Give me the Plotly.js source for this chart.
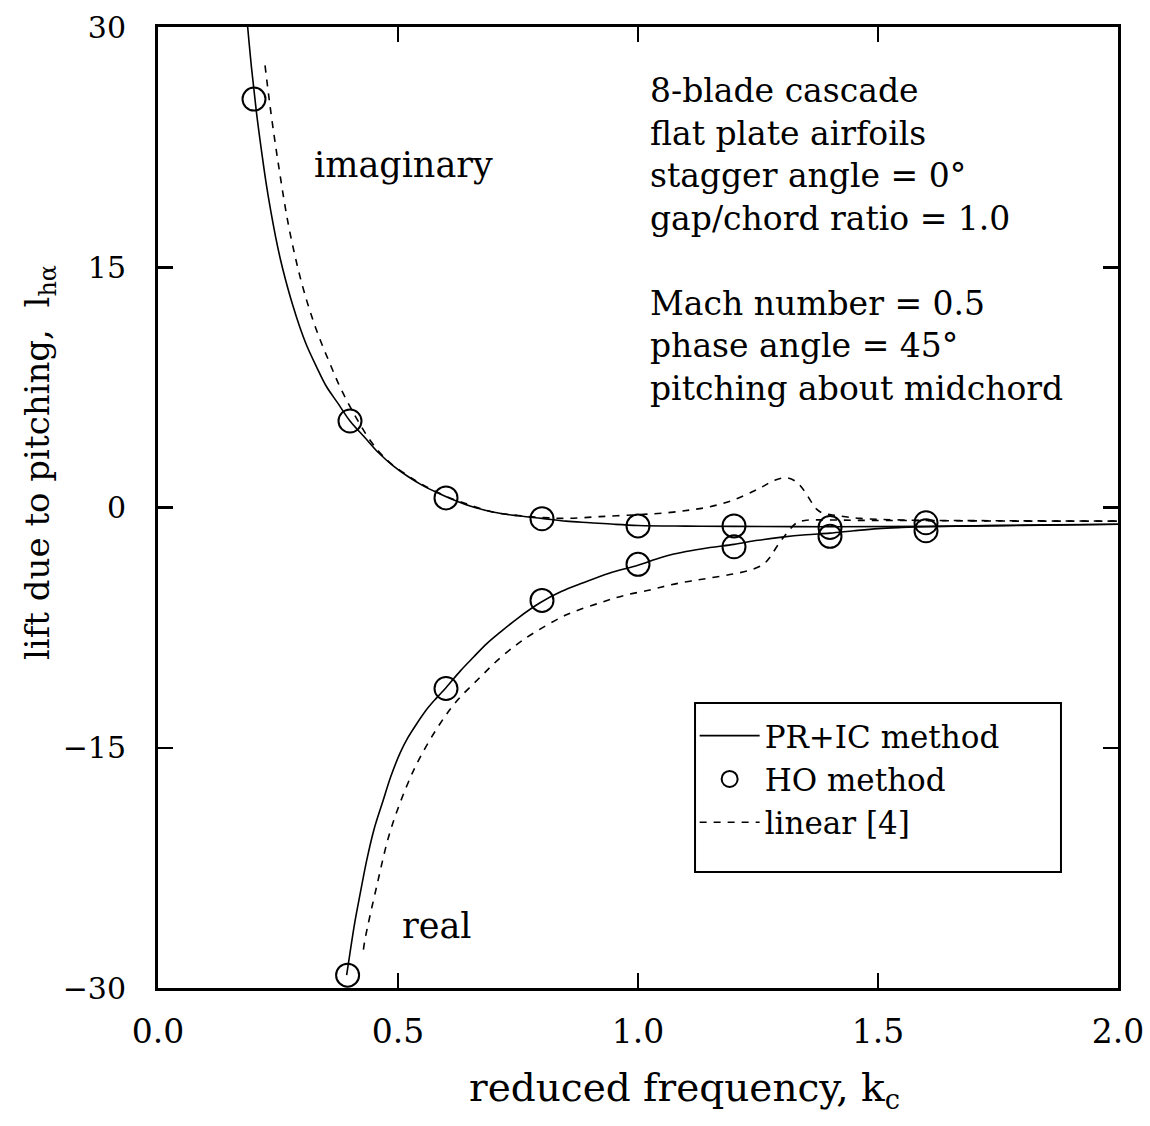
<!DOCTYPE html>
<html>
<head>
<meta charset="utf-8">
<script src="https://cdn.plot.ly/plotly-3.0.1.min.js"></script>
<style>
  html, body { margin: 0; padding: 0; background: #ffffff; }
  #chart { width: 1150px; height: 1126px; }
</style>
</head>
<body>
<div id="chart"></div>
<script>
// ---- data ----
// PR+IC method (solid lines)
const prImagK = [0.185, 0.195, 0.205, 0.215, 0.225, 0.235, 0.245, 0.255, 0.265, 0.280, 0.295, 0.310, 0.330, 0.350, 0.375, 0.400, 0.430, 0.460, 0.490, 0.520, 0.550, 0.580, 0.610, 0.650, 0.700, 0.750, 0.800, 0.850, 0.900, 0.950, 1.000, 1.100, 1.200, 1.400, 1.600, 1.800, 2.000];
const prImagV = [30.6, 27.4, 24.7, 22.4, 20.3, 18.5, 16.9, 15.5, 14.3, 12.7, 11.3, 10.1, 8.8, 7.6, 6.5, 5.4, 4.4, 3.4, 2.6, 1.95, 1.4, 0.95, 0.55, 0.1, -0.3, -0.52, -0.68, -0.85, -0.95, -1.05, -1.12, -1.16, -1.18, -1.2, -1.18, -1.12, -1.05];

const prRealK = [0.393, 0.400, 0.410, 0.420, 0.435, 0.450, 0.469, 0.485, 0.504, 0.520, 0.539, 0.560, 0.580, 0.600, 0.630, 0.657, 0.685, 0.7125, 0.750, 0.796, 0.840, 0.886, 0.940, 1.000, 1.050, 1.100, 1.150, 1.200, 1.250, 1.300, 1.350, 1.400, 1.450, 1.500, 1.550, 1.600, 1.800, 2.000];
const prRealV = [-29.2, -27.8, -25.9, -24.3, -22.0, -20.1, -18.3, -16.8, -15.35, -14.4, -13.5, -12.6, -11.9, -11.25, -10.2, -9.35, -8.5, -7.8, -6.9, -5.95, -5.25, -4.7, -4.1, -3.6, -3.1, -2.75, -2.5, -2.3, -2.05, -1.85, -1.7, -1.6, -1.45, -1.32, -1.25, -1.2, -1.1, -1.05];

// HO method (circles)
const hoImagK = [0.2, 0.4, 0.6, 0.8, 1.0, 1.2, 1.4, 1.6];
const hoImagV = [25.5, 5.4, 0.6, -0.7, -1.15, -1.15, -1.25, -0.95];
const hoRealK = [0.395, 0.6, 0.8, 1.0, 1.2, 1.4, 1.6];
const hoRealV = [-29.2, -11.3, -5.8, -3.55, -2.45, -1.8, -1.45];

// linear [4] (dashed lines)
const linImagK = [0.223, 0.232, 0.242, 0.252, 0.262, 0.272, 0.284, 0.296, 0.310, 0.324, 0.340, 0.358, 0.375, 0.393, 0.413, 0.435, 0.460, 0.483, 0.520, 0.550, 0.600, 0.650, 0.700, 0.750, 0.800, 0.851, 0.920, 1.000, 1.060, 1.108, 1.150, 1.199, 1.250, 1.285, 1.310, 1.330, 1.345, 1.360, 1.372, 1.385, 1.414, 1.4625, 1.550, 1.700, 2.000];
const linImagV = [27.6, 25.4, 23.2, 21.2, 19.3, 17.6, 15.9, 14.4, 12.9, 11.6, 10.3, 9.0, 7.8, 6.7, 5.6, 4.5, 3.5, 2.8, 2.0, 1.45, 0.7, 0.15, -0.3, -0.5, -0.62, -0.68, -0.57, -0.45, -0.33, -0.16, 0.05, 0.47, 1.15, 1.7, 1.85, 1.6, 1.1, 0.4, -0.1, -0.35, -0.5, -0.68, -0.78, -0.82, -0.85];

const linRealK = [0.428, 0.431, 0.456, 0.483, 0.518, 0.546, 0.5875, 0.622, 0.671, 0.7125, 0.750, 0.782, 0.851, 0.921, 0.970, 1.025, 1.065, 1.108, 1.150, 1.198, 1.235, 1.261, 1.275, 1.289, 1.310, 1.331, 1.350, 1.400, 1.450, 1.600, 1.800, 2.000];
const linRealV = [-27.6, -27.0, -23.6, -20.3, -17.4, -15.6, -13.5, -12.1, -10.6, -9.4, -8.5, -7.85, -6.7, -5.95, -5.5, -5.15, -4.85, -4.6, -4.4, -4.15, -3.9, -3.55, -3.1, -2.45, -1.6, -0.95, -0.8, -0.78, -0.8, -0.82, -0.85, -0.85];

// tick labels
const xTickVals = [0, 0.5, 1.0, 1.5, 2.0];
const xTickText = ["0.0", "0.5", "1.0", "1.5", "2.0"];
const yTickVals = [-30, -15, 0, 15, 30];
const yTickText = ["\u221230", "\u221215", "0", "15", "30"];

// texts
const xTitle = "reduced frequency, k<sub>c</sub>";
const yTitle = "lift due to pitching,  l<sub>hα</sub>";
const infoLines = ["8-blade cascade", "flat plate airfoils", "stagger angle = 0°", "gap/chord ratio = 1.0", "", "Mach number = 0.5", "phase angle = 45°", "pitching about midchord"];

// ---- chart ----
const FONT = "DejaVu Serif, Liberation Serif, serif";
const solid = {color: "black", width: 1.6, dash: "solid", shape: "spline", smoothing: 1};
const dashed = {color: "black", width: 1.6, dash: "7px,7px", shape: "spline", smoothing: 1};
const circ = {symbol: "circle-open", size: 23, color: "black", line: {width: 2, color: "black"}};

const traces = [
  {x: prImagK, y: prImagV, mode: "lines", line: solid, name: "PR+IC method", legendgroup: "pr", showlegend: true},
  {x: prRealK, y: prRealV, mode: "lines", line: solid, name: "PR+IC method", legendgroup: "pr", showlegend: false},
  {x: hoImagK, y: hoImagV, mode: "markers", marker: circ, name: "HO method", legendgroup: "ho", showlegend: true},
  {x: hoRealK, y: hoRealV, mode: "markers", marker: circ, name: "HO method", legendgroup: "ho", showlegend: false},
  {x: linImagK, y: linImagV, mode: "lines", line: dashed, name: "linear [4]", legendgroup: "lin", showlegend: true},
  {x: linRealK, y: linRealV, mode: "lines", line: dashed, name: "linear [4]", legendgroup: "lin", showlegend: false}
];

const annotations = [];
const infoX = 1.02, infoY0 = 27.35, infoStep = 42.4 / 16;
infoLines.forEach((s, i) => {
  if (!s) return;
  annotations.push({x: infoX, y: infoY0 - i * infoStep, xref: "x", yref: "y", text: s, showarrow: false,
    xanchor: "left", yanchor: "top", font: {family: FONT, size: 33, color: "black"}});
});
annotations.push({x: 0.32, y: 21.4, xref: "x", yref: "y", text: "imaginary", showarrow: false,
  xanchor: "left", yanchor: "middle", font: {family: FONT, size: 35, color: "black"}});
annotations.push({x: 0.504, y: -26.1, xref: "x", yref: "y", text: "real", showarrow: false,
  xanchor: "left", yanchor: "middle", font: {family: FONT, size: 35, color: "black"}});
// axis titles
annotations.push({x: 0.548, y: -0.106, xref: "paper", yref: "paper", text: xTitle, showarrow: false,
  xanchor: "center", yanchor: "middle", font: {family: FONT, size: 39, color: "black"}});
annotations.push({x: -0.124, y: 0.5473, xref: "paper", yref: "paper", text: yTitle, showarrow: false, textangle: -90,
  xanchor: "center", yanchor: "middle", font: {family: FONT, size: 34, color: "black"}});

const layout = {
  width: 1150, height: 1126,
  margin: {l: 158, r: 32, t: 27, b: 138, pad: 0},
  paper_bgcolor: "white", plot_bgcolor: "white",
  font: {family: FONT, color: "black"},
  showlegend: true,
  legend: {x: 0.559, y: 0.2903, xanchor: "left", yanchor: "top", borderwidth: 0,
    bgcolor: "rgba(0,0,0,0)", font: {family: FONT, size: 31, color: "black"}, itemwidth: 60, tracegroupgap: 0, traceorder: "normal"},
  shapes: [{type: "rect", xref: "paper", yref: "paper", x0: 0.5594, x1: 0.9406, y0: 0.1207, y1: 0.2966,
    line: {color: "black", width: 2}, fillcolor: "rgba(0,0,0,0)", layer: "above"}],
  xaxis: {range: [0, 2], showline: true, linewidth: 3, linecolor: "black", mirror: "allticks",
    ticks: "inside", ticklen: 15, tickwidth: 2.5, tickcolor: "black",
    tickvals: xTickVals, ticktext: xTickText, showgrid: false, zeroline: false,
    tickfont: {family: FONT, size: 33, color: "black"}, ticklabelstandoff: 12},
  yaxis: {range: [-30, 30], showline: true, linewidth: 3, linecolor: "black", mirror: "allticks",
    ticks: "inside", ticklen: 15, tickwidth: 2.5, tickcolor: "black",
    tickvals: yTickVals, ticktext: yTickText, showgrid: false, zeroline: false,
    tickfont: {family: FONT, size: 30, color: "black"}, ticklabelstandoff: 23},
  annotations: annotations
};

Plotly.newPlot("chart", traces, layout, {displayModeBar: false, staticPlot: true});
</script>
</body>
</html>
